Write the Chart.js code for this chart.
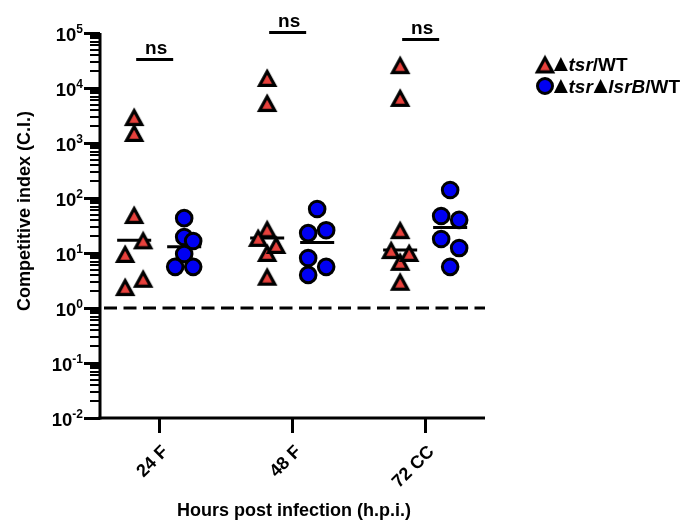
<!DOCTYPE html>
<html><head><meta charset="utf-8">
<script src="https://cdn.jsdelivr.net/npm/chart.js@4.4.0/dist/chart.umd.min.js"></script>
<style>html,body{margin:0;padding:0;background:#fff;}#wrap{width:686px;height:525px;position:relative;}</style>
</head><body><div id="wrap"><canvas id="c" width="686" height="525"></canvas></div>
<script>
// ---- data ----
const categories = ['24 F', '48 F', '72 CC'];
const tsrWT = [
  [2960, 1520, 49, 9.6, 17, 2.4, 3.4],
  [15200, 5330, 27, 10, 14, 18.8, 3.7],
  [26000, 6600, 26, 6.9, 10, 11.3, 3.0]
];
const tsrLsrBWT = [
  [43, 19.5, 16.5, 9.6, 5.6, 5.6],
  [63, 23, 26, 8.1, 5.6, 4.0],
  [140, 47, 40, 18, 12.3, 5.6]
];
const sigLevels = [3.4e4, 1.05e5, 7.8e4];
const sigLabels = ['ns', 'ns', 'ns'];
const yTickExponents = [-2, -1, 0, 1, 2, 3, 4, 5];
const referenceLevel = 1;
const xTitle = 'Hours post infection (h.p.i.)';
const yTitle = 'Competitive index (C.I.)';

// ---- style ----
const RED = '#E8413C', BLUE = '#0000F2', BLACK = '#000';
const FONT = "'Liberation Sans', Arial, Helvetica, sans-serif";
const GROUP_OFF = 0.188;
const MED_HALF = 0.128;
const SPREAD_T = 15, SPREAD_D = 9;
const X_MIN = 0.555, X_MAX = 3.45;

function median(a) {
  const s = [...a].sort((p, q) => p - q), n = s.length;
  return n % 2 ? s[(n - 1) / 2] : (s[n / 2 - 1] + s[n / 2]) / 2;
}

function triangleCanvas(fill) {
  const c = document.createElement('canvas'); c.width = 26; c.height = 26;
  const g = c.getContext('2d');
  g.beginPath(); g.moveTo(13, 6.6); g.lineTo(20.6, 20.4); g.lineTo(5.4, 20.4); g.closePath();
  g.fillStyle = fill; g.fill();
  g.lineWidth = 3.2; g.lineJoin = 'miter'; g.strokeStyle = BLACK; g.stroke();
  return c;
}
const triImg = triangleCanvas(RED);

function pointsFor(groups, side) {
  const out = [];
  groups.forEach((vals, i) => vals.forEach(v => out.push({x: i + 1 + side * GROUP_OFF, y: v})));
  return out;
}
function medianDatasets(groups, side) {
  return groups.map((vals, i) => {
    const m = median(vals), c = i + 1 + side * GROUP_OFF;
    return {label: 'median', data: [{x: c - MED_HALF, y: m}, {x: c + MED_HALF, y: m}],
      showLine: true, pointRadius: 0, borderColor: BLACK, borderWidth: 3, order: 5};
  });
}

const decorPlugin = {
  id: 'decor',
  beforeDatasetsDraw(chart) {
    const {ctx, chartArea: a, scales: {y}} = chart;
    ctx.save();
    ctx.strokeStyle = BLACK; ctx.lineWidth = 3; ctx.setLineDash([13, 6.5]);
    const ry = y.getPixelForValue(referenceLevel);
    ctx.beginPath(); ctx.moveTo(a.left + 4, ry); ctx.lineTo(a.right, ry); ctx.stroke();
    ctx.restore();
  },
  afterDraw(chart) {
    const {ctx, chartArea: a, scales: {x, y}} = chart;
    ctx.save();
    ctx.strokeStyle = BLACK; ctx.fillStyle = BLACK;
    ctx.lineWidth = 3;
    ctx.beginPath(); ctx.moveTo(a.left, a.top); ctx.lineTo(a.left, a.bottom + 1.5); ctx.stroke();
    ctx.beginPath(); ctx.moveTo(a.left - 1.5, a.bottom); ctx.lineTo(a.right, a.bottom); ctx.stroke();
    yTickExponents.forEach((e, k) => {
      const py = Math.round(y.getPixelForValue(Math.pow(10, e))) + 0.5;
      ctx.lineWidth = 3;
      ctx.beginPath(); ctx.moveTo(a.left - 16, py); ctx.lineTo(a.left, py); ctx.stroke();
      if (k < yTickExponents.length - 1) {
        ctx.lineWidth = 2;
        for (let m = 2; m <= 9; m++) {
          const my = Math.round(y.getPixelForValue(m * Math.pow(10, e)));
          ctx.beginPath(); ctx.moveTo(a.left - 10, my); ctx.lineTo(a.left, my); ctx.stroke();
        }
      }
      const sup = String(e);
      ctx.font = 'bold 12px ' + FONT;
      const sw = ctx.measureText(sup).width;
      const right = a.left - 17;
      ctx.textAlign = 'right'; ctx.textBaseline = 'alphabetic';
      ctx.fillText(sup, right, py - 1);
      ctx.font = 'bold 18.5px ' + FONT;
      ctx.fillText('10', right - sw, py + 7);
    });
    categories.forEach((c, i) => {
      const px = Math.round(x.getPixelForValue(i + 1)) + 0.5;
      ctx.lineWidth = 3;
      ctx.beginPath(); ctx.moveTo(px, a.bottom); ctx.lineTo(px, a.bottom + 15); ctx.stroke();
      ctx.save();
      ctx.translate(px + 6, a.bottom + 31);
      ctx.rotate(-Math.PI / 4);
      ctx.font = 'bold 18px ' + FONT; ctx.textAlign = 'right'; ctx.textBaseline = 'middle';
      ctx.fillText(c, 0, 0);
      ctx.restore();
    });
    ctx.font = 'bold 18px ' + FONT; ctx.textAlign = 'center'; ctx.textBaseline = 'middle';
    ctx.fillText(xTitle, 294, 511);
    ctx.save(); ctx.translate(25, 211); ctx.rotate(-Math.PI / 2);
    ctx.fillText(yTitle, 0, 0); ctx.restore();
    sigLevels.forEach((lv, i) => {
      const cx = x.getPixelForValue(i + 1);
      const by = Math.round(y.getPixelForValue(lv)) + 0.5;
      ctx.lineWidth = 3;
      ctx.beginPath(); ctx.moveTo(cx - 23, by); ctx.lineTo(cx + 14, by); ctx.stroke();
      ctx.font = 'bold 19px ' + FONT; ctx.textAlign = 'center'; ctx.textBaseline = 'alphabetic';
      ctx.fillText(sigLabels[i], cx - 3, by - 6);
    });
    const lx = 545;
    const rows = [
      {y: 64.5, marker: 'tri', parts: [['\u25B2', 'sym'], ['tsr', 'it'], ['/WT', 'b']]},
      {y: 86, marker: 'circ', parts: [['\u25B2', 'sym'], ['tsr', 'it'], ['\u25B2', 'sym'], ['lsrB', 'it'], ['/WT', 'b']]}
    ];
    rows.forEach(r => {
      if (r.marker === 'tri') {
        ctx.drawImage(triImg, lx - 13, r.y - 13);
      } else {
        ctx.beginPath(); ctx.arc(lx, r.y, 7.5, 0, Math.PI * 2);
        ctx.fillStyle = BLUE; ctx.fill(); ctx.lineWidth = 3; ctx.strokeStyle = BLACK; ctx.stroke();
        ctx.fillStyle = BLACK;
      }
      let tx = lx + 8;
      ctx.textAlign = 'left'; ctx.textBaseline = 'alphabetic';
      r.parts.forEach(([t, s]) => {
        if (s === 'sym') {
          ctx.font = 'bold 24px ' + FONT;
          const m = ctx.measureText(t);
          ctx.fillText(t, tx + m.actualBoundingBoxLeft, r.y + 6.5);
          tx += m.actualBoundingBoxLeft + m.actualBoundingBoxRight + 0.5;
        } else {
          ctx.font = (s === 'it' ? 'italic bold 19px ' : 'bold 19px ') + FONT;
          ctx.fillText(t, tx, r.y + 6.5);
          tx += ctx.measureText(t).width;
        }
      });
    });
    ctx.restore();
  }
};

const chart = new Chart(document.getElementById('c'), {
  type: 'scatter',
  data: {
    datasets: [
      {label: 'tsr/WT', data: pointsFor(tsrWT, -1), pointStyle: triImg, pointRadius: 9, order: 2},
      {label: 'tsrlsrB/WT', data: pointsFor(tsrLsrBWT, 1), pointStyle: 'circle', pointRadius: 7.8,
        backgroundColor: BLUE, borderColor: BLACK, pointBorderWidth: 3, order: 1},
      ...medianDatasets(tsrWT, -1),
      ...medianDatasets(tsrLsrBWT, 1)
    ]
  },
  options: {
    responsive: false, animation: false,
    layout: {padding: {left: 100, top: 33, right: 201, bottom: 107}},
    plugins: {legend: {display: false}, tooltip: {enabled: false}},
    scales: {
      x: {type: 'linear', display: false, min: X_MIN, max: X_MAX},
      y: {type: 'logarithmic', display: false, min: 0.01, max: 1e5}
    }
  },
  plugins: [decorPlugin]
});

function spreadOffsets(values) {
  const ys = values.map(v => chart.scales.y.getPixelForValue(v));
  const order = values.map((_, i) => i).sort((p, q) => ys[p] - ys[q]);
  const cl = new Array(values.length); let cid = -1, prev = null;
  order.forEach(i => { if (prev === null || ys[i] - prev >= SPREAD_T) cid++; cl[i] = cid; prev = ys[i]; });
  const col = new Array(values.length), placed = [];
  values.forEach((v, i) => {
    for (const c of [0, 1, -1, 2, -2, 3, -3]) {
      if (!placed.some(j => cl[j] === cl[i] && col[j] === c && Math.abs(ys[j] - ys[i]) < SPREAD_T)) {
        col[i] = c; placed.push(i); break;
      }
    }
  });
  const off = new Array(values.length);
  for (let k = 0; k <= cid; k++) {
    const m = values.map((_, i) => i).filter(i => cl[i] === k);
    const cs = m.map(i => col[i]); const mn = Math.min(...cs), mx = Math.max(...cs);
    const mid = (mn + mx) / 2, sc = (mx - mn === 1) ? 2 : 1;
    m.forEach(i => off[i] = (col[i] - mid) * sc * SPREAD_D);
  }
  return off;
}
function applySpread(groups, side, dsIndex) {
  const unit = chart.scales.x.getPixelForValue(1) - chart.scales.x.getPixelForValue(0);
  const data = [];
  groups.forEach((vals, i) => {
    const off = spreadOffsets(vals);
    vals.forEach((v, k) => data.push({x: i + 1 + side * GROUP_OFF + off[k] / unit, y: v}));
  });
  chart.data.datasets[dsIndex].data = data;
}
applySpread(tsrWT, -1, 0);
applySpread(tsrLsrBWT, 1, 1);
chart.update('none');
</script>
</body></html>
